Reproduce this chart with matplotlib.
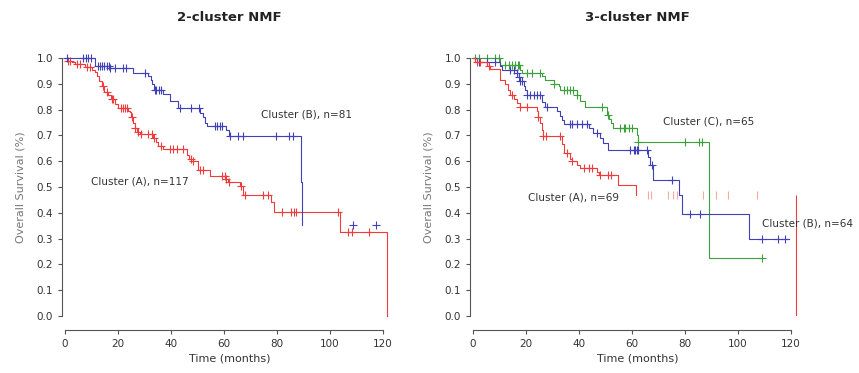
import numpy as np
import matplotlib
matplotlib.use("Agg")
import matplotlib.pyplot as plt

# ---- 2-cluster NMF ----
a2_t = [0.6, 2.5, 3.8, 7.5, 10.1, 11.3, 12.2, 12.9, 13.8, 14.7, 16.3, 17.2, 18.8, 20.1,
        23.9, 24.5, 24.9, 25.8, 26.4, 27.0, 28.3, 33.3, 34.3, 35.2, 37.1, 45.9, 46.9,
        47.7, 50.3, 54.6, 60.9, 61.6, 66.0, 67.2, 77.9, 78.8, 103.6, 121.6]
a2_s = [0.99, 0.985, 0.975, 0.965, 0.955, 0.945, 0.93, 0.91, 0.89, 0.87, 0.855, 0.84, 0.82,
        0.806, 0.795, 0.789, 0.77, 0.748, 0.73, 0.715, 0.706, 0.69, 0.675, 0.66, 0.647,
        0.625, 0.609, 0.60, 0.567, 0.543, 0.53, 0.521, 0.502, 0.47, 0.44, 0.402, 0.325, 0.0]
a2_c = [1.3, 1.9, 4.6, 5.7, 8.4, 9.4, 14.4, 15.7, 17.6, 18.2, 21.0, 21.7, 22.6, 23.5, 25.1,
        26.4, 27.6, 28.5, 31.4, 32.7, 33.5, 36.4, 39.6, 40.8, 42.1, 44.6, 47.4, 48.4, 50.9,
        52.1, 59.4, 60.3, 60.9, 61.9, 66.6, 67.8, 74.7, 76.6, 81.7, 85.4, 86.4, 87.3, 103.0,
        106.8, 108.4, 114.9]

b2_t = [11.3, 17.0, 25.8, 31.4, 32.3, 33.0, 33.5, 37.1, 39.6, 42.7, 50.9, 51.9, 52.8, 53.6,
        60.7, 61.9, 89.2, 89.6]
b2_s = [0.968, 0.96, 0.942, 0.93, 0.915, 0.90, 0.877, 0.86, 0.832, 0.806, 0.785, 0.77,
        0.75, 0.735, 0.72, 0.696, 0.521, 0.353]
b2_c = [0.6, 6.9, 7.9, 8.8, 9.7, 12.6, 13.2, 13.8, 14.7, 15.7, 16.5, 17.0, 18.8, 21.7, 23.0,
        30.2, 33.9, 34.5, 35.3, 36.1, 43.3, 47.7, 50.6, 56.5, 57.4, 58.4, 59.4, 62.2, 65.3,
        67.0, 79.8, 84.5, 86.1, 108.7, 117.5]

# ---- 3-cluster NMF ----
a3_t = [0.9, 5.3, 6.5, 10.3, 12.2, 13.1, 14.1, 15.3, 16.6, 17.8, 24.1, 24.7, 25.4, 26.0,
        26.6, 33.5, 34.2, 36.7, 37.3, 39.2, 40.5, 46.7, 47.4, 54.9, 61.6, 121.9]
a3_s = [0.985, 0.97, 0.959, 0.915, 0.90, 0.875, 0.855, 0.843, 0.825, 0.81, 0.795, 0.77,
        0.748, 0.72, 0.697, 0.665, 0.63, 0.61, 0.60, 0.585, 0.575, 0.56, 0.546, 0.507,
        0.47, 0.0]
a3_c = [1.5, 2.8, 5.9, 14.7, 17.8, 20.4, 24.7, 26.6, 27.6, 32.9, 35.4, 37.3, 41.7, 43.6,
        44.8, 48.0, 51.1, 52.0, 66.2, 67.1, 73.7, 75.6, 76.9, 86.7, 91.7, 96.4, 107.0]

b3_t = [1.5, 10.3, 10.9, 16.6, 17.2, 17.8, 19.1, 19.7, 20.4, 26.0, 27.3, 31.7, 32.7, 33.5,
        34.2, 43.6, 45.2, 48.0, 48.9, 51.1, 66.2, 66.8, 68.1, 77.8, 79.0, 104.1, 119.3]
b3_s = [0.985, 0.97, 0.952, 0.94, 0.925, 0.91, 0.89, 0.875, 0.855, 0.83, 0.81, 0.795, 0.775,
        0.76, 0.743, 0.73, 0.71, 0.69, 0.67, 0.645, 0.615, 0.585, 0.529, 0.468, 0.397,
        0.298, 0.298]
b3_c = [2.1, 5.3, 8.4, 14.1, 15.6, 16.6, 17.2, 17.8, 18.5, 20.4, 21.6, 22.9, 24.1, 25.4,
        27.9, 36.7, 37.3, 39.2, 41.1, 43.0, 46.7, 59.3, 60.6, 61.2, 61.8, 62.1, 65.6, 67.5,
        75.0, 81.7, 85.7, 108.9, 115.2, 117.7]

c3_t = [10.1, 17.8, 18.5, 26.0, 27.3, 30.4, 32.3, 32.9, 39.2, 40.5, 42.3, 50.5, 51.4, 52.0,
        53.0, 61.8, 62.4, 89.2, 108.9]
c3_s = [0.972, 0.955, 0.943, 0.93, 0.916, 0.90, 0.89, 0.875, 0.855, 0.835, 0.81, 0.78,
        0.765, 0.75, 0.73, 0.70, 0.675, 0.226, 0.226]
c3_c = [0.9, 2.1, 5.3, 8.4, 9.7, 12.2, 13.4, 14.7, 16.0, 16.8, 17.2, 20.4, 22.2, 25.4, 30.4,
        34.2, 35.4, 36.7, 37.9, 39.2, 48.6, 51.1, 55.5, 56.8, 57.4, 58.7, 59.9, 62.4, 80.0,
        85.1, 86.3, 108.9]

RED = "#f23a3a"
BLUE = "#4040b8"
GREEN = "#3ca03c"
TXT = "#333333"


def km(ax, t, s, cens, col, hide_tail=False, cens_fade_after=None):
    t = np.array([0.0] + list(t))
    s = np.array([1.0] + list(s))
    if hide_tail:
        # last horizontal stretch is not visible in the figure, only the final drop
        ax.step(t[:-1], s[:-1], where="post", color=col, lw=0.8, clip_on=False)
        ax.vlines(t[-1], s[-1], s[-2], color=col, lw=0.8)
    else:
        ax.step(t, s, where="post", color=col, lw=0.8, clip_on=False)
    cens = np.array(cens)
    idx = np.searchsorted(t, cens, side="right") - 1
    cy = s[idx]
    if cens_fade_after is None:
        ax.plot(cens, cy, "+", color=col, ms=6, mew=0.8, clip_on=False)
    else:
        m = cens > cens_fade_after
        ax.plot(cens[~m], cy[~m], "+", color=col, ms=6, mew=0.8, clip_on=False)
        ax.plot(cens[m], cy[m], "|", color=col, ms=6, mew=0.8, alpha=0.45, clip_on=False)


def style(ax, title):
    ax.set_xlim(0, 124)
    ax.set_ylim(0, 1)
    for sp in ["top", "right"]:
        ax.spines[sp].set_visible(False)
    ax.spines["left"].set_bounds(0, 1)
    ax.spines["left"].set_position(("outward", 2))
    ax.spines["bottom"].set_bounds(0, 120)
    ax.spines["bottom"].set_position(("outward", 10))
    for sp in ["left", "bottom"]:
        ax.spines[sp].set_color("#555555")
        ax.spines[sp].set_linewidth(0.8)
    ax.set_xticks(range(0, 121, 20))
    ax.set_yticks(np.arange(0, 1.01, 0.1))
    ax.set_yticklabels(["%.1f" % v for v in np.arange(0, 1.01, 0.1)])
    ax.tick_params(labelsize=7.5, colors="#555555", labelcolor=TXT, length=3, width=0.8)
    ax.set_xlabel("Time (months)", fontsize=8, color=TXT, labelpad=3)
    ax.set_ylabel("Overall Survival (%)", fontsize=8, color="#777777", labelpad=8)
    ax.set_title(title, fontsize=9.5, fontweight="bold", color="#222222", pad=0, y=1.145)


fig = plt.figure(figsize=(8.59, 3.73), dpi=100)
ax1 = fig.add_axes([65 / 859, 57 / 373, 328.6 / 859, 258 / 373])
ax2 = fig.add_axes([473 / 859, 57 / 373, 328.6 / 859, 258 / 373])

km(ax1, a2_t, a2_s, a2_c, RED)
km(ax1, b2_t, b2_s, b2_c, BLUE)
style(ax1, "2-cluster NMF")
ax1.text(91, 0.78, "Cluster (B), n=81", fontsize=7.5, color=TXT, ha="center", va="center")
ax1.text(28.3, 0.52, "Cluster (A), n=117", fontsize=7.5, color=TXT, ha="center", va="center")

km(ax2, c3_t, c3_s, c3_c, GREEN)
km(ax2, b3_t, b3_s, b3_c, BLUE)
km(ax2, a3_t, a3_s, a3_c, RED, hide_tail=True, cens_fade_after=62)
style(ax2, "3-cluster NMF")
ax2.text(89, 0.752, "Cluster (C), n=65", fontsize=7.5, color=TXT, ha="center", va="center")
ax2.text(37.8, 0.461, "Cluster (A), n=69", fontsize=7.5, color=TXT, ha="center", va="center")
ax2.text(126.4, 0.357, "Cluster (B), n=64", fontsize=7.5, color=TXT, ha="center",
         va="center", clip_on=False)

fig.savefig("out.png", dpi=100)
